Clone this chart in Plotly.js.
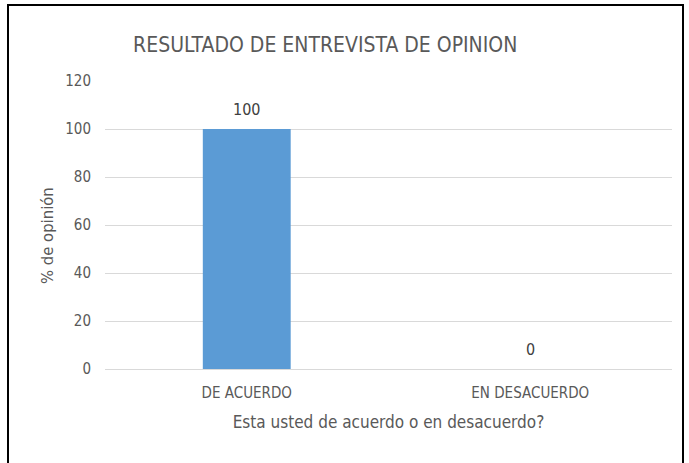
<!DOCTYPE html>
<html>
<head>
<meta charset="utf-8">
<script src="https://cdn.plot.ly/plotly-3.0.1.min.js"></script>
<style>
  html, body { margin: 0; padding: 0; background: #fff; }
  #wrap { position: relative; width: 689px; height: 463px; overflow: hidden; }
  #chart { position: absolute; left: 0; top: 0; width: 689px; height: 463px; }
  #frame { position: absolute; left: 7px; top: 4px; width: 673px; height: 480px; border: 2px solid #000; pointer-events: none; }
</style>
</head>
<body>
<div id="wrap">
  <div id="chart"></div>
  <div id="frame"></div>
</div>
<script>
const categories = ["DE ACUERDO", "EN DESACUERDO"];
const values = [100, 0];
const valueLabels = ["100", "0"];
const yTicks = [0, 20, 40, 60, 80, 100, 120];

const FONT = '"DejaVu Sans Condensed", "Liberation Sans Narrow", "Open Sans", sans-serif';
const GREY = '#595959';

const trace = {
  type: 'bar',
  x: categories,
  y: values,
  marker: { color: '#5b9bd5', line: { width: 0 } },
  hoverinfo: 'none'
};

const labelAnnotations = categories.map((c, i) => ({
  x: c, y: values[i], xref: 'x', yref: 'y',
  text: valueLabels[i], showarrow: false,
  yanchor: 'bottom', yshift: 8,
  font: { family: FONT, size: 16, color: '#404040' }
}));

const layout = {
  width: 689,
  height: 463,
  margin: { l: 105, r: 17, t: 81, b: 94 },
  paper_bgcolor: '#ffffff',
  plot_bgcolor: '#ffffff',
  showlegend: false,
  bargap: 0.69,
  title: {
    text: 'RESULTADO DE ENTREVISTA DE OPINION',
    font: { family: FONT, size: 21, color: GREY },
    x: 0.472, xref: 'container', xanchor: 'center',
    y: 0.903, yref: 'container', yanchor: 'middle'
  },
  annotations: labelAnnotations.concat([{
    text: '% de opinión', xref: 'paper', yref: 'paper', x: 0, y: 0.5,
    xanchor: 'center', yanchor: 'middle', xshift: -58, yshift: -11,
    textangle: -90, showarrow: false,
    font: { family: FONT, size: 16.5, color: GREY }
  }]),
  xaxis: {
    type: 'category',
    showgrid: false,
    showline: false,
    zeroline: false,
    ticks: '',
    ticklabelstandoff: 13,
    tickfont: { family: FONT, size: 15, color: GREY },
    title: { text: 'Esta usted de acuerdo o en desacuerdo?', font: { family: FONT, size: 17, color: GREY }, standoff: 15 }
  },
  yaxis: {
    range: [0, 120],
    tickvals: yTicks,
    ticktext: yTicks.map(String),
    showgrid: true,
    gridcolor: '#d9d9d9',
    gridwidth: 1,
    zeroline: true,
    zerolinecolor: '#d9d9d9',
    zerolinewidth: 1,
    showline: false,
    ticks: '',
    ticklabelstandoff: 13,
    tickfont: { family: FONT, size: 15, color: GREY }
  }
};

Plotly.newPlot('chart', [trace], layout, { displayModeBar: false, staticPlot: true });
</script>
</body>
</html>
